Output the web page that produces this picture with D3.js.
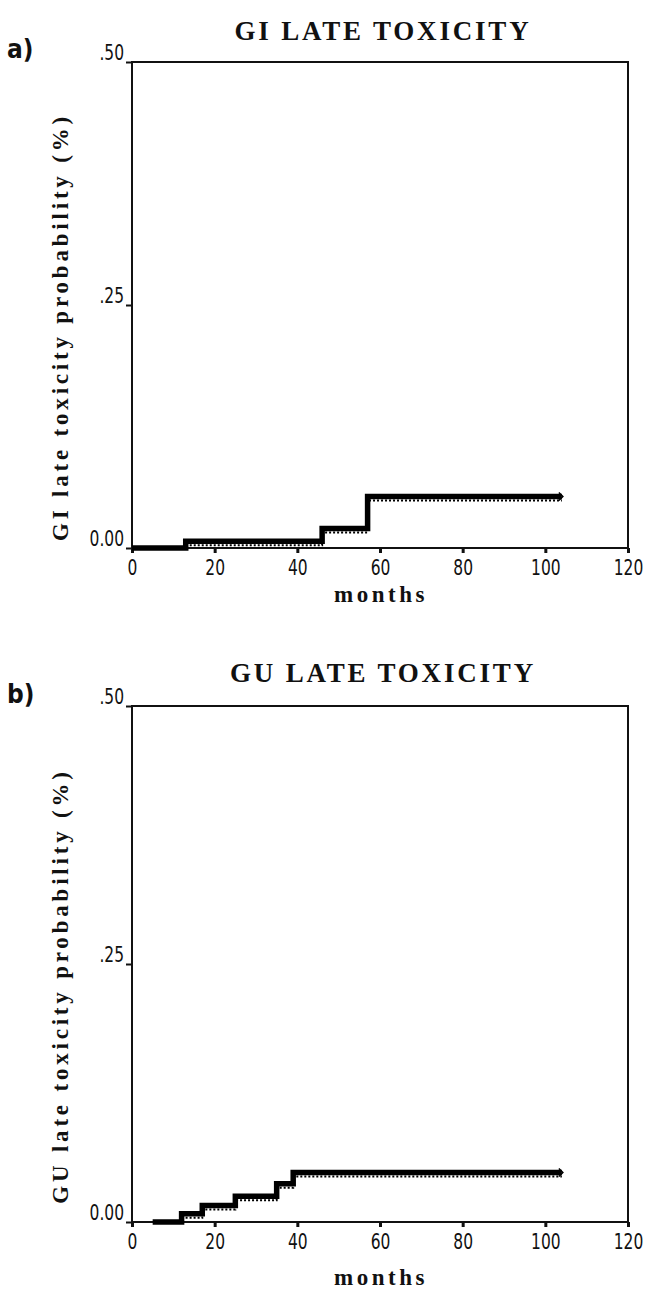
<!DOCTYPE html>
<html><head><meta charset="utf-8">
<script src="https://cdn.jsdelivr.net/npm/d3@7"></script>
<style>body{margin:0;background:#fff}svg{display:block}</style>
</head><body>
<svg id="c" width="656" height="1291"></svg>
<script>
// Data (months, cumulative probability)
const giMonths = [0, 13, 46, 57, 104];
const giValues = [0, 0.007, 0.020, 0.053, 0.053];
const guMonths = [5, 12, 17, 25, 35, 39, 104];
const guValues = [0, 0.008, 0.016, 0.025, 0.037, 0.048, 0.048];
const xTicks = [0, 20, 40, 60, 80, 100, 120];
const yTicks = [0, 0.25, 0.5];
const yTickLabels = ["0.00", ".25", ".50"];
const titles = ["GI LATE TOXICITY", "GU LATE TOXICITY"];
const panelLabels = ["a)", "b)"];
const yLabels = ["GI late toxicity probability (%)", "GU late toxicity probability (%)"];
const xLabel = "months";

const svg = d3.select("#c");
const serif = "'Liberation Serif', 'DejaVu Serif', serif";
const numFont = "'DejaVu Sans Condensed', 'Liberation Sans Narrow', 'Liberation Sans', sans-serif";

const panels = [
  {top: 62, bottom: 548, months: giMonths, values: giValues, titleY: 40, labelY: 58, xlabY: 602},
  {top: 706, bottom: 1222, months: guMonths, values: guValues, titleY: 682, labelY: 703, xlabY: 1285}
];
const left = 132, right = 628;

panels.forEach((p, i) => {
  const x = d3.scaleLinear().domain([0, 120]).range([left, right]);
  const y = d3.scaleLinear().domain([0, 0.5]).range([p.bottom, p.top]);
  const g = svg.append("g");

  // frame
  g.append("rect").attr("x", left).attr("y", p.top)
    .attr("width", right - left).attr("height", p.bottom - p.top)
    .attr("fill", "none").attr("stroke", "#111").attr("stroke-width", 2);

  // x axis
  const xa = g.append("g").attr("transform", `translate(0,${p.bottom})`)
    .call(d3.axisBottom(x).tickValues(xTicks).tickSize(5).tickPadding(7));
  xa.select(".domain").remove();
  xa.selectAll("line").attr("stroke", "#111").attr("stroke-width", 3);
  xa.selectAll(".tick text").attr("font-family", numFont).attr("font-size", 21)
    .attr("fill", "#111").attr("transform", "scale(0.82,1)");

  // y axis
  const ya = g.append("g").attr("transform", `translate(${left},0)`)
    .call(d3.axisLeft(y).tickValues(yTicks).tickSize(6).tickPadding(7)
      .tickFormat((d, k) => yTickLabels[k]));
  ya.select(".domain").remove();
  ya.selectAll("line").attr("stroke", "#111").attr("stroke-width", 2);
  ya.selectAll("text").attr("font-family", numFont).attr("font-size", 21)
    .attr("fill", "#111").attr("dy", "-0.12em").attr("transform", "scale(0.82,1)")
    .attr("x", -8 / 0.82);

  // step curve
  const pts = p.months.map((m, k) => [m, p.values[k]]);
  const line = d3.line().x(d => x(d[0])).y(d => y(d[1])).curve(d3.curveStepAfter);
  g.append("path").attr("d", line(pts)).attr("fill", "none")
    .attr("stroke", "#000").attr("stroke-width", 5.5);
  // censor texture just below the curve (after first event)
  const cens = pts.slice(1);
  const line2 = d3.line().x(d => x(d[0])).y(d => y(d[1]) + 4).curve(d3.curveStepAfter);
  g.append("path").attr("d", line2(cens)).attr("fill", "none")
    .attr("stroke", "#000").attr("stroke-width", 2).attr("stroke-dasharray", "2,2");
  // end mark
  const last = pts[pts.length - 1];
  g.append("path")
    .attr("d", `M${x(last[0]) - 3},${y(last[1]) - 4}L${x(last[0]) + 1},${y(last[1])}L${x(last[0]) - 3},${y(last[1]) + 4}`)
    .attr("fill", "none").attr("stroke", "#000").attr("stroke-width", 1.5);

  // title
  svg.append("text").attr("x", 383).attr("y", p.titleY).attr("text-anchor", "middle")
    .attr("font-family", serif).attr("font-weight", "bold").attr("font-size", 27)
    .attr("letter-spacing", "2.8").attr("fill", "#111").text(titles[i]);
  // panel label
  svg.append("text").attr("x", 7).attr("y", p.labelY)
    .attr("font-family", numFont).attr("font-weight", "bold").attr("font-size", 26)
    .attr("fill", "#111").text(panelLabels[i]);
  // y label
  const cy = (p.top + p.bottom) / 2 + 22;
  svg.append("text").attr("transform", `translate(68,${cy}) rotate(-90)`)
    .attr("text-anchor", "middle").attr("font-family", serif).attr("font-weight", "bold")
    .attr("font-size", 23).attr("letter-spacing", "3.8").attr("fill", "#111").text(yLabels[i]);
  // x label
  svg.append("text").attr("x", 381).attr("y", p.xlabY).attr("text-anchor", "middle")
    .attr("font-family", serif).attr("font-weight", "bold").attr("font-size", 23)
    .attr("letter-spacing", "3.5").attr("fill", "#111").text(xLabel);
});
</script>
</body></html>
